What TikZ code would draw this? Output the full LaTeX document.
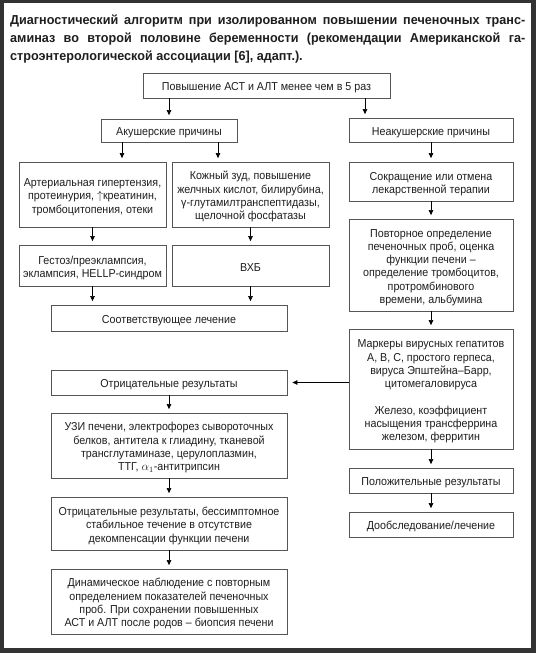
\documentclass[tikz,border=0pt]{standalone}
\usepackage{fontspec}
\setmainfont{Liberation Sans}
\newfontfamily\bodyfnt[FakeStretch=0.93]{Liberation Sans}
\newfontfamily\titlefnt[FakeStretch=0.97]{Liberation Sans}
\usetikzlibrary{arrows.meta}
\definecolor{framec}{HTML}{333333}
\definecolor{boxc}{HTML}{555555}
\definecolor{textc}{HTML}{1E1E1E}
\newcommand{\fl}{\rule{0pt}{13pt}}
\begin{document}
\begin{tikzpicture}[x=1pt,y=-1pt,
  box/.style={draw=boxc, line width=0.8pt, align=center, inner sep=0pt,
    font=\bodyfnt\fontsize{11.5}{13.3}\selectfont, text=textc,
    execute at begin node={\rule{0pt}{12.5pt}}},
  arr/.style={-{Triangle[length=5pt,width=4.5pt]}, line width=0.6pt, draw=black, shorten >=3.5pt},
  ttl/.style={anchor=base west, inner sep=0pt, text=textc,
    font=\titlefnt\bfseries\fontsize{13}{18}\selectfont}]
\useasboundingbox (0,0) rectangle (536,653);
\fill[framec] (0,0) rectangle (536,653);
\fill[white] (4,3) rectangle (531,648);
% title
\node[ttl] (t1) at (10,24) {\makebox[515pt][s]{Диагностический алгоритм при изолированном повышении печеночных транс-}};
\node[ttl] (t2) at (10,42) {\makebox[515pt][s]{аминаз во второй половине беременности (рекомендации Американской га-}};
\node[ttl] (t3) at (10,60) {строэнтерологической ассоциации [6], адапт.).};
% boxes
\node[box, minimum width=247pt, minimum height=25pt] (top) at (266.5,85.5) {Повышение АСТ и АЛТ менее чем в 5 раз};
\node[box, minimum width=136pt, minimum height=23pt] (ak) at (169,130.5) {Акушерские причины};
\node[box, minimum width=164pt, minimum height=24pt] (neak) at (431,130) {Неакушерские причины};
\node[box, minimum width=147pt, minimum height=65pt] (art) at (92.5,194.5) {\fl Артериальная гипертензия,\\протеинурия, $\uparrow$креатинин,\\тромбоцитопения, отеки};
\node[box, minimum width=157pt, minimum height=65pt] (kozh) at (250.5,194.5) {\fl Кожный зуд, повышение\\желчных кислот, билирубина,\\γ-глутамилтранспептидазы,\\щелочной фосфатазы};
\node[box, minimum width=164pt, minimum height=39pt] (sokr) at (431,181.5) {\fl Сокращение или отмена\\лекарственной терапии};
\node[box, minimum width=147pt, minimum height=41pt] (gest) at (92.5,265.5) {\fl Гестоз/преэклампсия,\\эклампсия, HELLP-синдром};
\node[box, minimum width=157pt, minimum height=41pt] (vhb) at (250.5,265.5) {ВХБ};
\node[box, minimum width=164pt, minimum height=92pt] (povt) at (431,265) {\fl Повторное определение\\печеночных проб, оценка\\функции печени –\\определение тромбоцитов,\\протромбинового\\времени, альбумина};
\node[box, minimum width=236pt, minimum height=26pt] (sootv) at (169,318) {Соответствующее лечение};
\node[box, minimum width=164pt, minimum height=120pt] (mark) at (431,389) {\fl Маркеры вирусных гепатитов\\А, В, С, простого герпеса,\\вируса Эпштейна–Барр,\\цитомегаловируса\\[13.3pt]Железо, коэффициент\\насыщения трансферрина\\железом, ферритин};
\node[box, minimum width=236pt, minimum height=25pt] (otr) at (169,382.5) {Отрицательные результаты};
\node[box, minimum width=236pt, minimum height=65pt] (uzi) at (169,445.5) {\fl УЗИ печени, электрофорез сывороточных\\белков, антитела к глиадину, тканевой\\трансглутаминазе, церулоплазмин,\\ТТГ, $\alpha_1$-антитрипсин};
\node[box, minimum width=164pt, minimum height=25pt] (pol) at (431,480.5) {Положительные результаты};
\node[box, minimum width=236pt, minimum height=53pt] (otr2) at (169,523.5) {\fl Отрицательные результаты, бессимптомное\\стабильное течение в отсутствие\\декомпенсации функции печени};
\node[box, minimum width=164pt, minimum height=25pt] (doobs) at (431,524.5) {Дообследование/лечение};
\node[box, minimum width=236pt, minimum height=65pt] (dyn) at (169,601.5) {\fl Динамическое наблюдение с повторным\\определением показателей печеночных\\проб. При сохранении повышенных\\АСТ и АЛТ после родов – биопсия печени};
% arrows
\draw[arr] (top.south -| ak.north) -- (ak.north);
\draw[arr] (365,0 |- top.south) -- (365,0 |- neak.north);
\draw[arr] (122,0 |- ak.south) -- (122,0 |- art.north);
\draw[arr] (218,0 |- ak.south) -- (218,0 |- kozh.north);
\draw[arr] (art.south) -- (gest.north);
\draw[arr] (kozh.south) -- (vhb.north);
\draw[arr] (gest.south) -- (gest.south |- sootv.north);
\draw[arr] (vhb.south) -- (vhb.south |- sootv.north);
\draw[arr] (neak.south) -- (sokr.north);
\draw[arr] (sokr.south) -- (povt.north);
\draw[arr] (povt.south) -- (mark.north);
\draw[arr] (mark.south) -- (pol.north);
\draw[arr] (pol.south) -- (doobs.north);
\draw[arr, shorten >=5pt] (mark.west |- otr.east) -- (otr.east);
\draw[arr] (otr.south) -- (uzi.north);
\draw[arr] (uzi.south) -- (otr2.north);
\draw[arr] (otr2.south) -- (dyn.north);
\end{tikzpicture}
\end{document}
